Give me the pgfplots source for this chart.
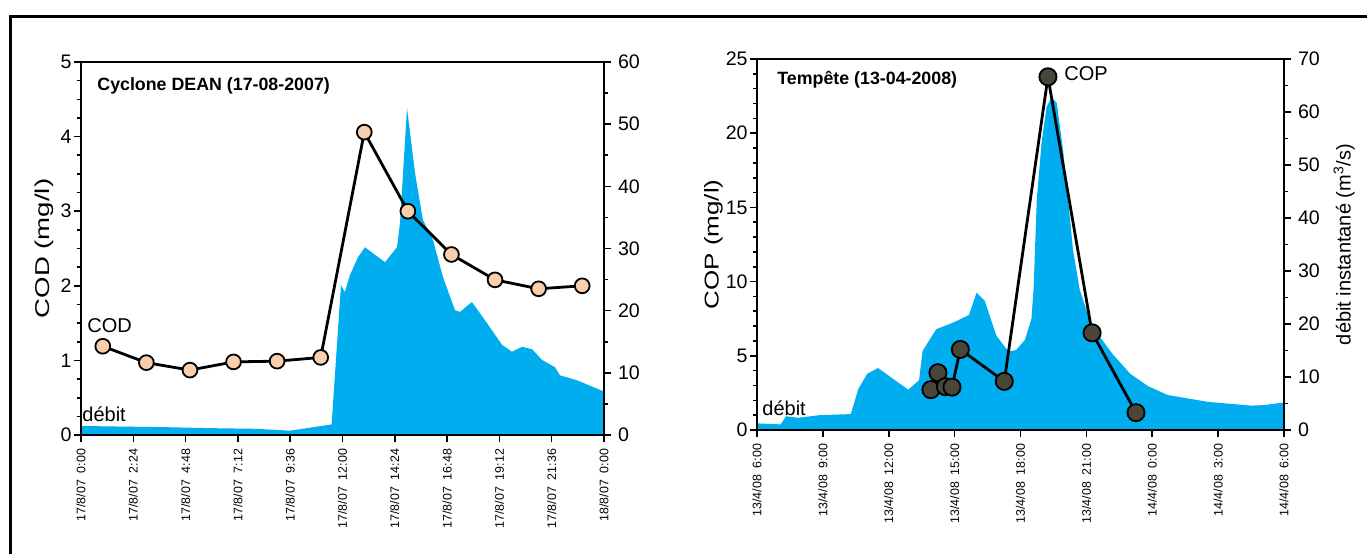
\documentclass[border=0pt]{standalone}
\usepackage{pgfplots}
\pgfplotsset{compat=1.18}
\usepackage{graphicx}
\usepackage{fontspec}
\setmainfont{Liberation Sans}
\definecolor{debit}{RGB}{0,174,239}
\definecolor{peach}{RGB}{249,206,172}
\definecolor{darkm}{RGB}{72,70,56}
\pgfplotsset{
  base/.style={
    scale only axis,
    axis line style={line width=1pt},
    tick style={line width=0.8pt,black},
    major tick length=3.5pt,
    minor tick length=2pt,
    tick align=outside,
    tick label style={font=\fontsize{9.8}{11}\selectfont},
    /pgf/number format/assume math mode=true,
    label style={font=\fontsize{10}{12}\selectfont},
    clip=false,
    xmin=0, xmax=24,
  },
  xlab/.style={x tick label style={rotate=90, anchor=east, font=\fontsize{6.2}{7}\selectfont}},
}
\begin{document}
\begin{tikzpicture}
\useasboundingbox (0,0) rectangle (683.5pt,277pt);
\draw[line width=1.5pt] (5pt,0) -- (5pt,269pt) -- (683.5pt,269pt);
% ---------------- left chart: debit ----------------
\begin{axis}[base, xlab, at={(40.5pt,59.5pt)}, anchor=south west, width=261.5pt, height=186.5pt,
  ymin=0, ymax=60, ytick={0,10,...,60}, minor y tick num=1,
  ytick pos=right, yticklabel pos=right, xtick pos=bottom, axis on top,
  xtick={0,2.4,4.8,7.2,9.6,12,14.4,16.8,19.2,21.6,24},
  xticklabels={17/8/07\ \ 0:00,17/8/07\ \ 2:24,17/8/07\ \ 4:48,17/8/07\ \ 7:12,17/8/07\ \ 9:36,17/8/07\ \ 12:00,17/8/07\ \ 14:24,17/8/07\ \ 16:48,17/8/07\ \ 19:12,17/8/07\ \ 21:36,18/8/07\ \ 0:00}]
\addplot[fill=debit, draw=none] coordinates {
(0,1.45) (2,1.35) (4,1.25) (6,1.1) (8,1.0) (9.6,0.7) (11.5,1.7)
(11.93,24.1) (12.11,23.0) (12.34,25.7) (12.71,28.6) (13.03,30.2) (13.95,27.8)
(14.50,30.2) (14.64,34.1) (14.96,52.6) (15.33,42.1) (15.69,34.6) (16.15,31.4)
(16.61,25.4) (17.16,20.1) (17.39,19.8) (17.94,21.4) (18.63,18.0) (19.32,14.5)
(19.78,13.4) (20.24,14.2) (20.70,13.8) (21.15,12.1) (21.75,10.9) (21.98,9.6)
(22.76,8.8) (24,7.0)} \closedcycle;
\end{axis}
% ---------------- left chart: COD ----------------
\begin{axis}[base, at={(40.5pt,59.5pt)}, anchor=south west, width=261.5pt, height=186.5pt,
  ymin=0, ymax=5, ytick={0,1,...,5}, minor y tick num=3,
  ytick pos=left, xtick=\empty, ylabel={\scalebox{1.38}[1]{COD (mg/l)}},
  yticklabel style={inner sep=1pt},
  ylabel style={yshift=-1pt}]
\addplot[black, line width=1.4pt, mark=*, mark size=3.7pt,
  mark options={fill=peach, draw=black, line width=0.9pt}] coordinates {
(1,1.19) (3,0.97) (5,0.87) (7,0.98) (9,0.99) (11,1.04) (13,4.06) (15,3.0)
(17,2.42) (19,2.08) (21,1.96) (23,2.0)};
\end{axis}
% ---------------- right chart: debit ----------------
\begin{axis}[base, xlab, at={(378.5pt,62pt)}, anchor=south west, width=263.5pt, height=185.5pt,
  ymin=0, ymax=70, ytick={0,10,...,70}, minor y tick num=1,
  ytick pos=right, yticklabel pos=right, ylabel near ticks, xtick pos=bottom, axis on top,
  ylabel={débit instantané (m\textsuperscript{3}/s)},
  xtick={0,3,...,24},
  xticklabels={13/4/08\ \ 6:00,13/4/08\ \ 9:00,13/4/08\ \ 12:00,13/4/08\ \ 15:00,13/4/08\ \ 18:00,13/4/08\ \ 21:00,14/4/08\ \ 0:00,14/4/08\ \ 3:00,14/4/08\ \ 6:00}]
\addplot[fill=debit, draw=none] coordinates {
(0,1.25) (1.08,1.06) (1.32,2.6) (1.87,2.3) (2.85,2.8) (4.27,3.0) (4.62,7.8)
(5.02,10.6) (5.51,11.7) (6.89,7.6) (7.38,9.4) (7.54,14.9) (8.16,19.0) (8.95,20.3)
(9.65,21.7) (10.0,25.9) (10.37,24.4) (10.9,17.8) (11.45,14.8) (11.8,15.1)
(12.2,17.0) (12.5,21.0) (12.6,27) (12.74,43.4) (12.96,54.2) (13.19,61)
(13.42,62.8) (13.65,61.7) (13.94,52.8) (14.17,43.4) (14.39,34) (14.7,26.4)
(15.25,19.6) (16.2,14.3) (17.0,10.6) (17.8,8.3) (18.7,6.6) (20.56,5.3)
(22.52,4.6) (23.11,4.7) (24,5.2)} \closedcycle;
\end{axis}
% ---------------- right chart: COP ----------------
\begin{axis}[base, at={(378.5pt,62pt)}, anchor=south west, width=263.5pt, height=185.5pt,
  ymin=0, ymax=25, ytick={0,5,...,25}, minor y tick num=4,
  ytick pos=left, xtick=\empty, ylabel={\scalebox{1.3}[1]{COP (mg/l)}},
  yticklabel style={inner sep=1pt},
  ylabel style={yshift=-3pt}]
\addplot[black, line width=1.4pt, mark=*, mark size=4.3pt,
  mark options={fill=darkm, draw=black, line width=0.9pt}] coordinates {
(7.92,2.72) (8.24,3.86) (8.58,2.92) (8.88,2.89) (9.26,5.43) (11.26,3.28)
(13.25,23.8) (15.26,6.55) (17.26,1.17)};
\end{axis}
% ---------------- annotations ----------------
\node[anchor=west, inner sep=0pt, font=\bfseries\fontsize{8.9}{10}\selectfont] at (48.5pt,234pt) {Cyclone DEAN (17-08-2007)};
\node[anchor=west, inner sep=0pt, font=\bfseries\fontsize{8.9}{10}\selectfont] at (388.5pt,237pt) {Tempête (13-04-2008)};
\node[anchor=west, inner sep=0pt, font=\fontsize{10}{12}\selectfont] at (43.5pt,114pt) {COD};
\node[anchor=west, inner sep=0pt, font=\fontsize{10}{12}\selectfont] at (41pt,70pt) {débit};
\node[anchor=west, inner sep=0pt, font=\fontsize{10}{12}\selectfont] at (381pt,73pt) {débit};
\node[anchor=west, inner sep=0pt, font=\fontsize{10}{12}\selectfont] at (532pt,240pt) {COP};
\end{tikzpicture}
\end{document}
